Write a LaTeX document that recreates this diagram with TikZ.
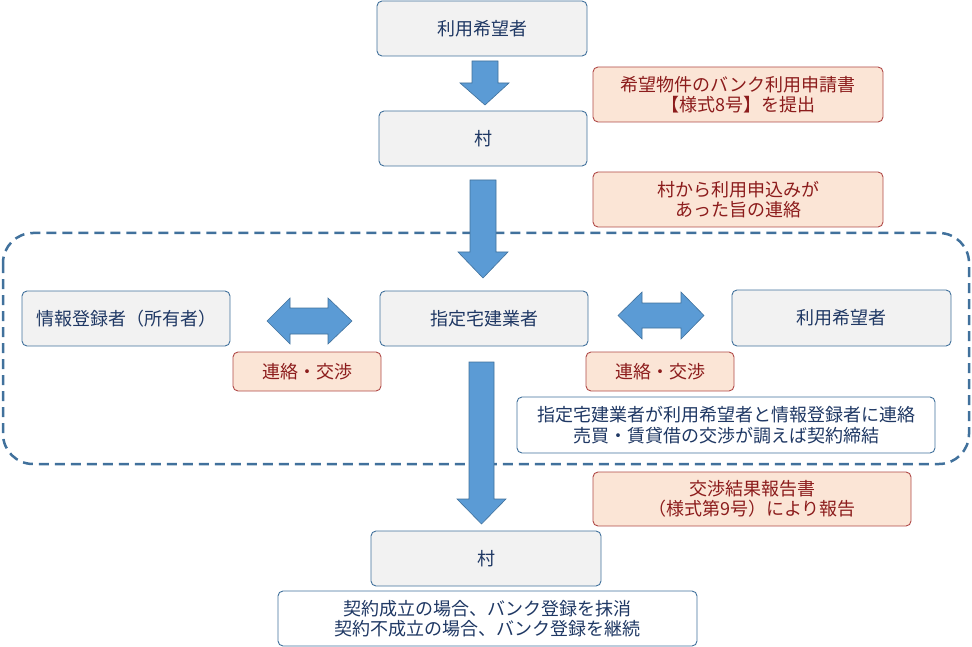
\documentclass[tikz,border=0pt]{standalone}
\usepackage{fontspec}
\setmainfont{Noto Sans CJK JP}
\definecolor{boxline}{HTML}{41719C}
\definecolor{boxfill}{HTML}{F2F2F2}
\definecolor{navytext}{HTML}{1F3864}
\definecolor{pinkfill}{HTML}{FBE5D6}
\definecolor{pinkline}{HTML}{B04A48}
\definecolor{redtext}{HTML}{8C1C1C}
\definecolor{arrowfill}{HTML}{5B9BD5}
\begin{document}
\begin{tikzpicture}[x=1pt,y=-1pt,
  basebox/.style={rounded corners=5pt,line width=0.9pt,inner sep=0pt,align=center,
     font=\fontsize{18}{20.5}\selectfont},
  graybox/.style={basebox,draw=boxline,fill=boxfill,text=navytext},
  whitebox/.style={basebox,draw=boxline,fill=white,text=navytext},
  pinkbox/.style={basebox,draw=pinkline,fill=pinkfill,text=redtext},
  blockarrow/.style={fill=arrowfill,draw=boxline,line width=0.6pt},
  frame/.style={draw=boxline,line width=2.5pt,dash pattern=on 10pt off 6pt,rounded corners=30pt}]
\useasboundingbox (0,0) rectangle (972,647);

% dashed frame
\draw[frame] (3,233) rectangle (969,464);

% boxes
\node[graybox,minimum width=210pt,minimum height=55pt] (user1) at (482,28.5) {利用希望者};
\node[graybox,minimum width=208pt,minimum height=55pt] (village1) at (483,138.5) {村};
\node[pinkbox,minimum width=290pt,minimum height=55pt] (note1) at (738,94.5) {希望物件のバンク利用申請書\\【様式8号】を提出};
\node[pinkbox,minimum width=290pt,minimum height=55pt] (note2) at (738,199.5) {村から利用申込みが\\あった旨の連絡};
\node[graybox,minimum width=208pt,minimum height=55pt] (owner) at (126,318.5) {情報登録者（所有者）};
\node[graybox,minimum width=208pt,minimum height=55pt] (agent) at (484,318.5) {指定宅建業者};
\node[graybox,minimum width=219pt,minimum height=56pt] (user2) at (841.5,318) {利用希望者};
\node[pinkbox,minimum width=148pt,minimum height=39pt] (negL) at (307,371.5) {連絡・交渉};
\node[pinkbox,minimum width=148pt,minimum height=39pt] (negR) at (660,371.5) {連絡・交渉};
\node[whitebox,minimum width=418pt,minimum height=56pt] (desc1) at (726,425) {指定宅建業者が利用希望者と情報登録者に連絡\\売買・賃貸借の交渉が調えば契約締結};
\node[pinkbox,minimum width=318pt,minimum height=54pt] (note3) at (752,499) {交渉結果報告書\\（様式第9号）により報告};
\node[graybox,minimum width=230pt,minimum height=55pt] (village2) at (486,558.5) {村};
\node[whitebox,minimum width=419pt,minimum height=55pt] (desc2) at (487.5,618.5) {契約成立の場合、バンク登録を抹消\\契約不成立の場合、バンク登録を継続};

% block arrows
\draw[blockarrow] (472,61) -- (498,61) -- (498,83) -- (509,83) -- (485,105) -- (460,83) -- (472,83) -- cycle;
\draw[blockarrow] (470,180) -- (496,180) -- (496,252) -- (508,252) -- (483,278) -- (458,252) -- (470,252) -- cycle;
\draw[blockarrow] (469,362) -- (494,362) -- (494,499) -- (506,499) -- (481.5,524) -- (457,499) -- (469,499) -- cycle;
\draw[blockarrow] (267,321) -- (290,298) -- (290,308) -- (328,308) -- (328,298) -- (352,321) -- (328,344) -- (328,334) -- (290,334) -- (290,344) -- cycle;
\draw[blockarrow] (618,315.5) -- (642,292) -- (642,303) -- (681,303) -- (681,292) -- (704,315.5) -- (681,339) -- (681,328) -- (642,328) -- (642,339) -- cycle;
\end{tikzpicture}
\end{document}
